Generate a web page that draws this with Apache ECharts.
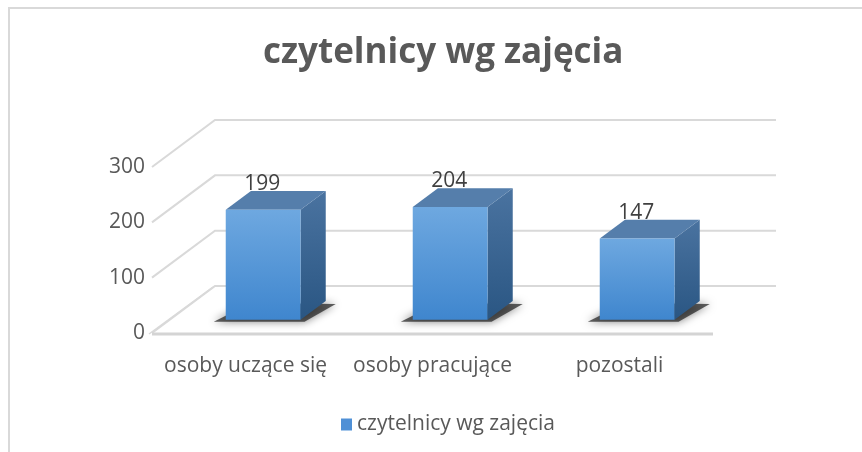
<!DOCTYPE html>
<html>
<head>
<meta charset="utf-8">
<script src="https://cdn.jsdelivr.net/npm/echarts@6/dist/echarts.min.js"></script>
<style>
  html, body { margin: 0; padding: 0; background: #fff; }
  #chart { width: 862px; height: 452px; }
</style>
</head>
<body>
<div id="chart"></div>
<script>
var categories = ["osoby uczące się", "osoby pracujące", "pozostali"];
var readers = [199, 204, 147];
var yTicks = [0, 100, 200, 300];
var seriesName = "czytelnicy wg zajęcia";

// depth of the 3d box, in pixels
var DX = 63, DY = 47;
var D0 = 0.28, D1 = 0.68;

var chart = echarts.init(document.getElementById("chart"));

function renderWalls(params, api) {
  var v = api.value(0);
  var cs = params.coordSys;
  var y = api.coord([0, v])[1];
  var x0 = cs.x, x1 = cs.x + cs.width;
  var children = [{
    type: "polyline",
    shape: { points: [[x0, y], [x0 + DX, y - DY], [x1 + DX, y - DY]] },
    style: { stroke: "#d9d9d9", lineWidth: 2, fill: null }
  }];
  if (v === 0) {
    children.push({
      type: "line",
      shape: { x1: x0, y1: y + 1, x2: x1, y2: y + 1 },
      style: { stroke: "#d4d4d4", lineWidth: 3 }
    });
    children.push({
      type: "line",
      shape: { x1: x0 - 3, y1: y + 1, x2: x0 + DX - 2, y2: y - DY + 1 },
      style: { stroke: "#d9d9d9", lineWidth: 1.5 }
    });
  }
  return { type: "group", children: children };
}

function renderBar(params, api) {
  var i = api.value(0);
  var v = api.value(1);
  var base = api.coord([i, 0]);
  var top = api.coord([i, v]);
  var w = api.size([1, 0])[0] * 0.4;
  var fx0 = base[0] - w / 2 + D0 * DX;
  var fx1 = fx0 + w;
  var yb = base[1] - D0 * DY;
  var yt = top[1] - D0 * DY;
  var ddx = (D1 - D0) * DX, ddy = (D1 - D0) * DY;
  return {
    type: "group",
    children: [
      {
        type: "polygon",
        shape: { points: [[fx0 - 12, yb + 2], [fx1 + 4, yb + 2], [fx1 + ddx + 10, yb - ddy + 3], [fx0 + ddx, yb - ddy + 2]] },
        style: { fill: "rgba(30,30,30,0.7)", shadowBlur: 8, shadowColor: "rgba(0,0,0,0.7)" }
      },
      {
        type: "polygon",
        shape: { points: [[fx1, yt], [fx1 + ddx, yt - ddy], [fx1 + ddx, yb - ddy], [fx1, yb]] },
        style: {
          fill: new echarts.graphic.LinearGradient(0, 0, 0, 1, [
            { offset: 0, color: "#4a73a0" }, { offset: 1, color: "#2a5683" }
          ])
        }
      },
      {
        type: "polygon",
        shape: { points: [[fx0, yt], [fx1, yt], [fx1 + ddx, yt - ddy], [fx0 + ddx, yt - ddy]] },
        style: { fill: "#557eab" }
      },
      {
        type: "rect",
        shape: { x: fx0, y: yt, width: w, height: yb - yt },
        style: {
          fill: new echarts.graphic.LinearGradient(0, 0, 0, 1, [
            { offset: 0, color: "#6ea8e0" }, { offset: 1, color: "#3f86ce" }
          ])
        }
      },
      {
        type: "text",
        style: {
          text: String(v), x: (fx0 + fx1) / 2 - 1, y: yt - ddy - 7,
          align: "center", verticalAlign: "middle",
          font: "21px 'Open Sans', sans-serif", fill: "#404040"
        }
      }
    ]
  };
}

var option = {
  backgroundColor: "#fff",
  animation: false,
  title: {
    text: seriesName,
    left: 258,
    top: 31,
    textStyle: { fontFamily: "Open Sans", fontWeight: "bold", fontSize: 35, color: "#595959" }
  },
  legend: {
    bottom: 12,
    left: 336,
    itemWidth: 11,
    itemHeight: 12,
    itemGap: 6,
    textStyle: { fontFamily: "Open Sans", fontSize: 21, color: "#595959" },
    data: [{ name: seriesName, icon: "rect", itemStyle: { color: "#4f90d6" } }]
  },
  graphic: [{
    type: "rect",
    shape: { x: 9, y: 8, width: 900, height: 500 },
    style: { fill: null, stroke: "#d9d9d9", lineWidth: 2 },
    silent: true
  }],
  grid: { left: 152, right: 149, top: 167, bottom: 119 },
  xAxis: {
    type: "category",
    data: categories,
    axisLine: { show: false },
    axisTick: { show: false },
    axisLabel: { margin: 23, fontFamily: "Open Sans", fontSize: 21, color: "#595959", interval: 0 }
  },
  yAxis: {
    type: "value",
    min: 0,
    max: 300,
    interval: 100,
    axisLine: { show: false },
    axisTick: { show: false },
    splitLine: { show: false },
    axisLabel: { margin: 7, fontFamily: "Open Sans", fontSize: 21, color: "#595959" }
  },
  series: [
    {
      type: "custom",
      name: "walls",
      silent: true,
      renderItem: renderWalls,
      data: yTicks.map(function (t) { return [t]; }),
      encode: { y: 0 },
      z: 1
    },
    {
      type: "custom",
      name: seriesName,
      renderItem: renderBar,
      itemStyle: { color: "#4f90d6" },
      data: readers.map(function (v, i) { return [i, v]; }),
      encode: { x: 0, y: 1 },
      z: 2
    }
  ]
};

chart.setOption(option);
</script>
</body>
</html>
